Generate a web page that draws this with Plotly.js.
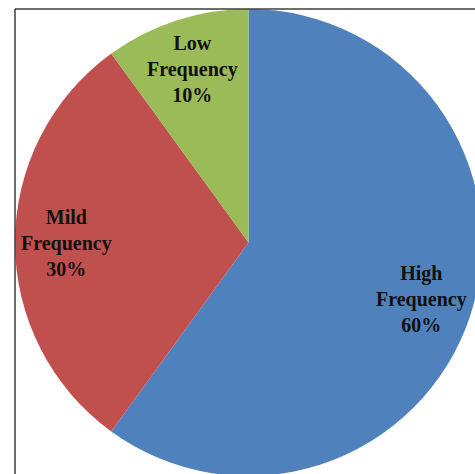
<!DOCTYPE html>
<html>
<head>
<meta charset="utf-8">
<script src="https://cdn.plot.ly/plotly-3.0.1.min.js"></script>
<style>
  html, body { margin: 0; padding: 0; overflow: hidden; background: #ffffff; }
  #chart { position: absolute; left: 0; top: 0; width: 482px; height: 476px; }
</style>
</head>
<body>
<div id="chart"></div>
<script>
// Frequency shares, drawn clockwise from 12 o'clock
const categories = ["High Frequency", "Mild Frequency", "Low Frequency"];
const shares = [60, 30, 10];
const sliceColors = ["#4F81BD", "#C0504D", "#9BBB59"];

// Plot area: 467px square, offset so the frame sits at its left/top edges
const plotSize = 467;
const marginLeft = 15;
const marginTop = 9;

// Labels sit on each slice's bisector, at this fraction of the radius
const labelRadius = 0.78;

const total = shares.reduce((a, b) => a + b, 0);
const annotations = [];
let cum = 0;
shares.forEach((v, i) => {
  const mid = (cum + v / 2) / total * 2 * Math.PI; // clockwise from top
  cum += v;
  const words = categories[i].split(" ");
  annotations.push({
    xref: "paper", yref: "paper",
    x: 0.5 + 0.5 * labelRadius * Math.sin(mid),
    y: 0.5 + 0.5 * labelRadius * Math.cos(mid),
    xanchor: "center", yanchor: "middle",
    showarrow: false,
    align: "center",
    text: "<b>" + words.join("<br>") + "<br>" + v + "%</b>",
    font: { family: "Liberation Serif, DejaVu Serif, serif", size: 20, color: "#111111" }
  });
});

const trace = {
  type: "pie",
  labels: categories,
  values: shares,
  sort: false,
  direction: "clockwise",
  rotation: 0,
  marker: { colors: sliceColors, line: { width: 0 } },
  textinfo: "none",
  hoverinfo: "none",
  domain: { x: [0, 1], y: [0, 1] }
};

const layout = {
  width: marginLeft + plotSize,
  height: marginTop + plotSize,
  margin: { l: marginLeft, r: 0, t: marginTop, b: 0, pad: 0 },
  paper_bgcolor: "#ffffff",
  plot_bgcolor: "#ffffff",
  showlegend: false,
  annotations: annotations,
  shapes: [
    { type: "line", xref: "paper", yref: "paper", x0: 0, x1: 0, y0: -0.1, y1: 1,
      line: { color: "#3c3c3c", width: 1.5 } },
    { type: "line", xref: "paper", yref: "paper", x0: 0, x1: 1.1, y0: 1, y1: 1,
      line: { color: "#3c3c3c", width: 1.5 } }
  ]
};

Plotly.newPlot("chart", [trace], layout, { displayModeBar: false, staticPlot: true });
</script>
</body>
</html>
